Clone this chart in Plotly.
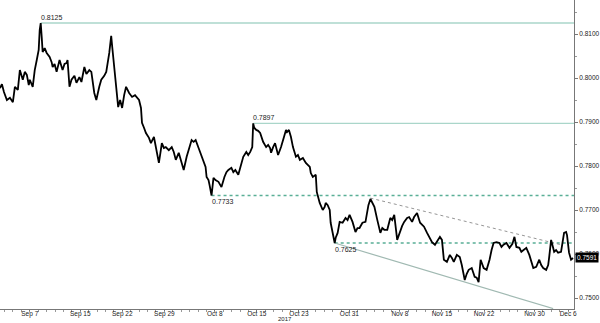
import numpy as np
import plotly.graph_objects as go

# Time in trading days relative to Sep 7 2017 (business-day offsets), and price
t = [-3.54,-3.31,-3.07,-2.72,-2.36,-2.01,-1.77,-1.42,-1.18,-0.94,-0.83,-0.59,-0.35,-0.12,0.00,0.35,0.59,0.83,1.06,1.18,1.30,1.42,1.53,1.77,2.01,2.36,2.60,2.72,2.95,3.19,3.42,3.54,3.90,4.13,4.37,4.49,4.72,4.96,5.31,5.55,5.90,6.14,6.49,6.73,7.08,7.32,7.67,7.91,8.26,8.50,8.85,9.09,9.45,9.68,9.80,10.04,10.27,10.51,
     10.74,10.98,11.22,11.45,11.81,12.16,12.51,12.99,13.22,13.34,13.58,13.81,14.17,14.40,14.76,15.11,15.35,15.58,15.70,15.94,16.17,16.53,16.88,17.12,17.36,17.71,18.06,18.30,18.65,18.89,19.24,19.48,19.72,20.07,
     20.43,20.66,20.90,21.02,21.25,21.37,21.61,21.84,22.08,22.43,22.79,23.14,23.38,23.61,23.97,24.20,24.44,24.79,25.03,25.38,25.74,25.97,26.21,26.45,26.56,26.68,26.92,27.15,27.39,27.74,28.10,28.34,28.57,28.69,28.93,29.16,29.52,29.87,30.22,30.46,30.58,30.81,31.05,31.29,31.64,31.88,32.11,32.47,32.82,33.06,33.29,33.41,33.65,34.00,34.12,
     34.47,34.83,35.06,35.18,35.42,35.66,35.77,36.13,36.25,36.37,36.60,36.84,37.19,37.54,37.78,38.02,38.37,38.72,38.96,39.20,39.55,39.91,40.14,40.26,40.50,40.73,40.97,41.32,41.68,41.91,42.15,42.50,42.86,43.09,43.33,43.68,44.04,44.27,44.51,44.86,45.10,45.45,45.69,46.04,46.40,46.64,46.87,47.23,47.58,47.82,48.17,48.52,48.76,49.00,49.23,49.59,49.94,50.18,50.41,50.77,51.12,51.36,51.59,51.71,51.95,52.18,52.54,52.89,53.13,53.36,53.60,53.96,54.31,54.66,54.90,55.14,55.49,55.84,56.08,56.32,56.67,57.03,57.38,57.62,57.85,58.21,58.44,58.68,59.03,59.39,59.62,59.86,60.21,60.57,60.80,61.04,61.39,61.63,61.75,61.98,62.22,62.34,62.57,62.81,63.16,63.40,63.52,63.76,63.87,64.11,64.35,64.58]
price = [0.7977,0.7986,0.7968,0.7950,0.7955,0.7945,0.7980,0.7973,0.8018,0.8000,0.7996,0.8014,0.8007,0.7984,0.7996,0.7980,0.8018,0.8041,0.8064,0.8109,0.8125,0.8093,0.8059,0.8068,0.8057,0.8048,0.8036,0.8025,0.8032,0.8014,0.8036,0.8041,0.8018,0.8032,0.8034,0.8041,0.7980,0.7996,0.8005,0.7989,0.8002,0.7991,0.8025,0.8009,0.8018,0.8014,0.7966,0.7950,0.7980,0.7996,0.8005,0.8014,0.8057,0.8096,0.8071,0.8018,0.7980,0.7934,
         0.7950,0.7932,0.7961,0.7980,0.7966,0.7957,0.7961,0.7950,0.7932,0.7898,0.7887,0.7875,0.7864,0.7852,0.7866,0.7830,0.7807,0.7836,0.7852,0.7841,0.7843,0.7836,0.7843,0.7832,0.7814,0.7830,0.7809,0.7791,0.7821,0.7836,0.7859,0.7855,0.7859,0.7841,
         0.7821,0.7809,0.7798,0.7775,0.7768,0.7757,0.7733,0.7773,0.7768,0.7764,0.7752,0.7775,0.7786,0.7791,0.7796,0.7786,0.7791,0.7780,0.7798,0.7821,0.7832,0.7825,0.7832,0.7843,0.7897,0.7887,0.7882,0.7880,0.7875,0.7855,0.7843,0.7848,0.7841,0.7830,0.7843,0.7852,0.7825,0.7843,0.7866,0.7882,0.7877,0.7882,0.7866,0.7843,0.7821,0.7825,0.7814,0.7818,0.7807,0.7802,0.7798,0.7784,0.7775,0.7780,0.7741,
         0.7716,0.7700,0.7707,0.7716,0.7711,0.7700,0.7671,0.7639,0.7625,0.7637,0.7648,0.7673,0.7671,0.7682,0.7677,0.7689,0.7673,0.7650,0.7659,0.7659,0.7671,0.7673,0.7700,0.7711,0.7725,0.7716,0.7707,0.7677,0.7648,0.7659,0.7655,0.7655,0.7682,0.7677,0.7689,0.7632,0.7655,0.7664,0.7673,0.7682,0.7684,0.7673,0.7684,0.7693,0.7671,0.7666,0.7662,0.7648,0.7637,0.7627,0.7621,0.7632,0.7639,0.7632,0.7587,0.7582,0.7598,0.7591,0.7582,0.7598,0.7593,0.7575,0.7546,0.7541,0.7555,0.7564,0.7568,0.7548,0.7546,0.7536,0.7587,0.7568,0.7564,0.7587,0.7609,0.7625,0.7627,0.7625,0.7616,0.7621,0.7625,0.7614,0.7623,0.7639,0.7616,0.7614,0.7605,0.7609,0.7614,0.7598,0.7582,0.7568,0.7571,0.7587,0.7575,0.7568,0.7564,0.7575,0.7593,0.7632,0.7614,0.7605,0.7609,0.7603,0.7605,0.7632,0.7648,0.7650,0.7643,0.7603,0.7587,0.7591]

# Horizontal levels: value, start time, style
levels = [0.8125, 0.7897, 0.7733, 0.7625]
level_start = [1.30, 26.56, 21.61, 36.25]
level_dash = ["solid", "solid", "dash", "dash"]
level_label_pos = ["above", "above", "below", "below"]

# Trend lines (time, price)
support_t = [36.25, 62.22]
support_p = [0.7625, 0.7476]
resist_t = [40.50, 63.16]
resist_p = [0.7727, 0.7621]

tick_dates = ["2017-09-07","2017-09-15","2017-09-22","2017-09-29","2017-10-08","2017-10-15",
              "2017-10-23","2017-10-31","2017-11-08","2017-11-15","2017-11-22","2017-11-30","2017-12-06"]
tick_labels = ["Sep 7","Sep 15","Sep 22","Sep 29","Oct 8","Oct 15","Oct 23","Oct 31",
               "Nov 8","Nov 15","Nov 22","Nov 30","Dec 6"]
y_ticks = [0.75, 0.76, 0.77, 0.78, 0.79, 0.80, 0.81]
last_price = 0.7591

tickvals = [int(v) for v in np.busday_count("2017-09-07", tick_dates)]
x_end = 64.7
x_start = -3.54

fig = go.Figure()

level_solid_col = "rgb(170,214,202)"
level_dash_col = "rgb(90,175,150)"
for lv, st, ds in zip(levels, level_start, level_dash):
    fig.add_trace(go.Scatter(x=[st, x_end], y=[lv, lv], mode="lines",
                             line=dict(color=level_solid_col if ds == "solid" else level_dash_col,
                                       width=1.3, dash="solid" if ds == "solid" else "3px,3px"),
                             hoverinfo="skip", showlegend=False))

fig.add_trace(go.Scatter(x=support_t, y=support_p, mode="lines",
                         line=dict(color="rgb(160,185,178)", width=1.2),
                         hoverinfo="skip", showlegend=False))
fig.add_trace(go.Scatter(x=resist_t, y=resist_p, mode="lines",
                         line=dict(color="rgb(150,150,150)", width=1.0, dash="3px,3px"),
                         hoverinfo="skip", showlegend=False))

fig.add_trace(go.Scatter(x=t, y=price, mode="lines",
                         line=dict(color="black", width=1.8), showlegend=False))

font_fam = "Liberation Sans, Arial, sans-serif"
for lv, st, pos in zip(levels, level_start, level_label_pos):
    fig.add_annotation(x=st, y=lv, text=f"{lv:.4f}", showarrow=False,
                       xanchor="left", yanchor="bottom" if pos == "above" else "top",
                       xshift=-2, yshift=0 if pos == "above" else -1,
                       font=dict(family=font_fam, size=7, color="#222"))

fig.add_annotation(xref="paper", x=1, y=last_price, text=f"{last_price:.4f}", showarrow=False,
                   xanchor="left", yanchor="middle", xshift=1,
                   bgcolor="black", borderpad=1,
                   font=dict(family=font_fam, size=6.5, color="white"))

fig.add_annotation(x=30.4, yref="paper", y=-0.017, text="2017", showarrow=False,
                   xanchor="center", yanchor="top",
                   font=dict(family=font_fam, size=6, color="#222"))

fig.update_layout(
    width=600, height=323,
    margin=dict(l=0, r=22, t=0, b=14),
    plot_bgcolor="white", paper_bgcolor="white",
    showlegend=False,
    xaxis=dict(range=[x_start, x_end], tickvals=tickvals, ticktext=tick_labels,
               showgrid=False, zeroline=False, showline=True, linecolor="#777", linewidth=1,
               ticks="outside", ticklen=1, tickcolor="#777", ticklabelstandoff=-3,
               tickfont=dict(family=font_fam, size=6.5, color="#222"),
               minor=dict(dtick=1, tick0=0, ticks="outside", ticklen=2, tickcolor="#999")),
    yaxis=dict(range=[0.7475, 0.81773], side="right", tickvals=y_ticks,
               ticktext=[f"{v:.4f}" for v in y_ticks],
               showgrid=False, zeroline=False, showline=True, linecolor="#777", linewidth=1,
               ticks="outside", ticklen=3, tickcolor="#777",
               tickfont=dict(family=font_fam, size=6.5, color="#222"),
               minor=dict(dtick=0.005, tick0=0.75, ticks="outside", ticklen=2, tickcolor="#999")),
)

fig.write_html("out.html")
